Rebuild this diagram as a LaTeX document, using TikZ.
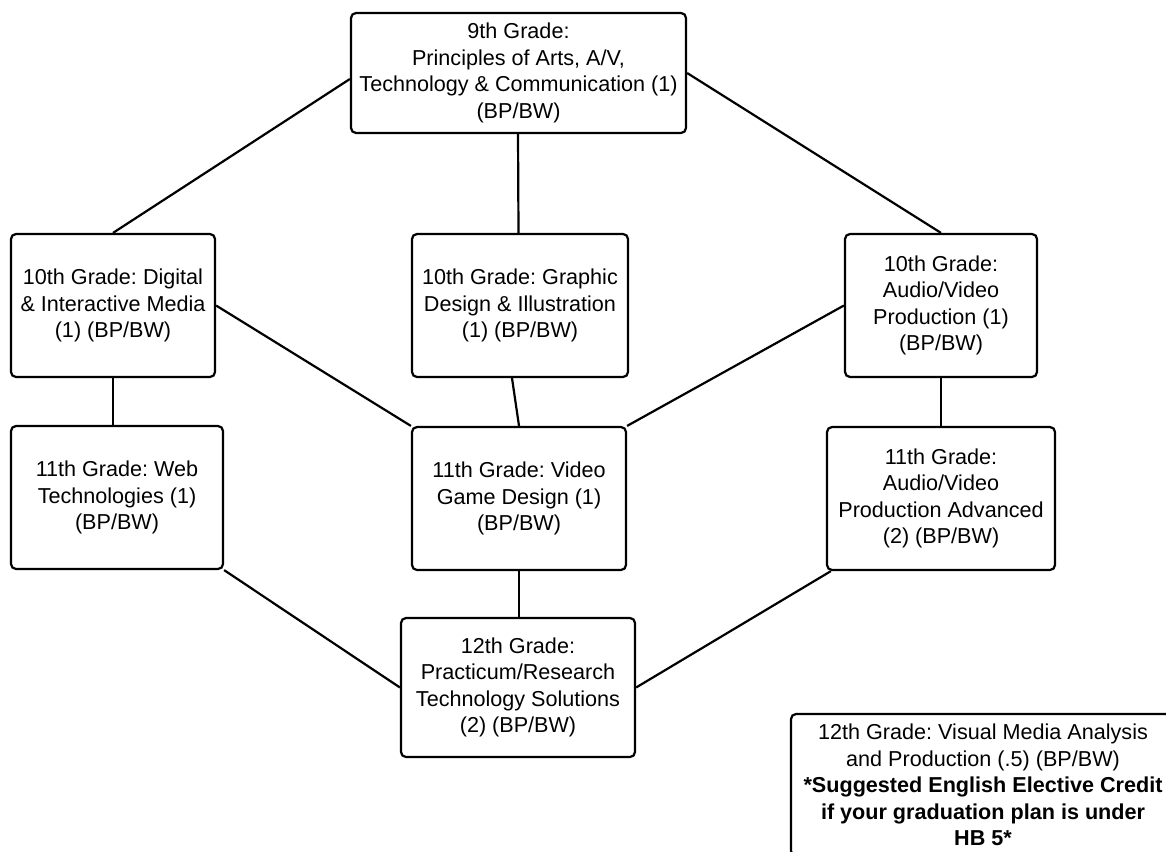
\documentclass[tikz,border=0pt]{standalone}
\usepackage{fontspec}
\setmainfont{Liberation Sans}
\frenchspacing
\begin{document}
\begin{tikzpicture}[x=1pt,y=-1pt,
  box/.style={draw=black, line width=2.2pt, rounded corners=5pt, fill=white,
    align=center, inner sep=0pt, font=\fontsize{21.6}{26.5}\selectfont},
  link/.style={draw=black, line width=2.2pt}]
\clip (0,0) rectangle (1166,851);
\fill[white] (0,0) rectangle (1166,851);
% nodes
\node[box, minimum width=335pt, minimum height=120pt] (nine) at (518.5,73)
  {9th Grade:\\Principles of Arts, A/V,\\Technology \& Communication (1)\\(BP/BW)};
\node[box, minimum width=204pt, minimum height=143pt] (dig) at (113,305.5)
  {10th Grade: Digital\\\& Interactive Media\\(1) (BP/BW)};
\node[box, minimum width=216pt, minimum height=143pt] (gra) at (520,305.5)
  {10th Grade: Graphic\\Design \& Illustration\\(1) (BP/BW)};
\node[box, minimum width=192pt, minimum height=143pt] (aud) at (941,305.5)
  {10th Grade:\\Audio/Video\\Production (1)\\(BP/BW)};
\node[box, minimum width=212pt, minimum height=143pt] (web) at (117,497.5)
  {11th Grade: Web\\Technologies (1)\\(BP/BW)};
\node[box, minimum width=214pt, minimum height=143pt] (vid) at (519,498.5)
  {11th Grade: Video\\Game Design (1)\\(BP/BW)};
\node[box, minimum width=228pt, minimum height=143pt] (adv) at (941,498.5)
  {11th Grade:\\Audio/Video\\Production Advanced\\(2) (BP/BW)};
\node[box, minimum width=234pt, minimum height=139pt] (prac) at (518,687.5)
  {12th Grade:\\Practicum/Research\\Technology Solutions\\(2) (BP/BW)};
\node[box, minimum width=384pt, minimum height=142pt] (vis) at (983,785)
  {12th Grade: Visual Media Analysis\\and Production (.5) (BP/BW)\\\textbf{*Suggested English Elective Credit}\\\textbf{if your graduation plan is under}\\\textbf{HB 5*}};
% connectors
\draw[link] ([yshift=-6pt]nine.west) -- (dig.north);
\draw[link] (nine.east) -- (aud.north);
\draw[link] ([xshift=-0.5pt]nine.south) -- ([xshift=-1.5pt]gra.north);
\draw[link] (dig.east) -- (vid.north west);
\draw[link] ([xshift=-8pt]gra.south) -- (vid.north);
\draw[link] (aud.west) -- (vid.north east);
\draw[link] (dig.south) -- (dig.south |- web.north);
\draw[link] (aud.south) -- (adv.north);
\draw[link] (web.south east) -- (prac.west);
\draw[link] (vid.south) -- (vid.south |- prac.north);
\draw[link] ([xshift=5pt]adv.south west) -- (prac.east);
\end{tikzpicture}
\end{document}
